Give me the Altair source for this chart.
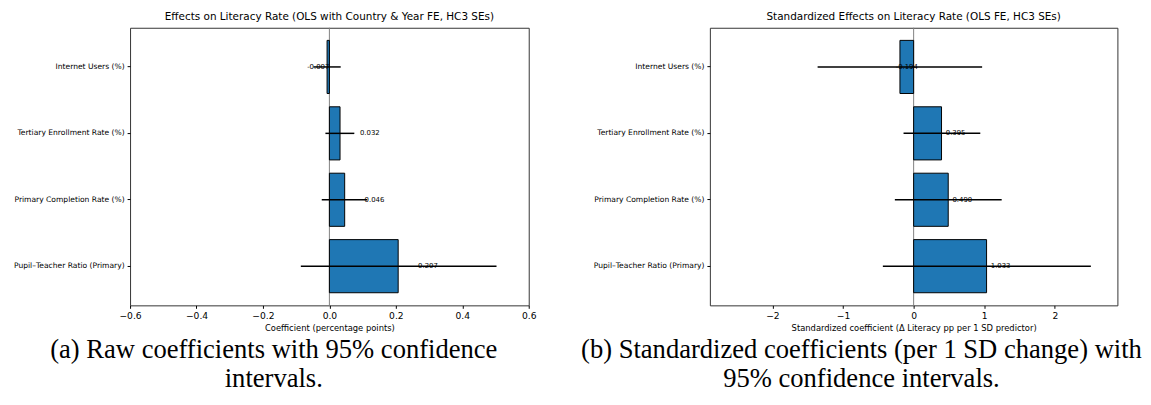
import altair as alt
import pandas as pd

# ---- data (top-to-bottom order as shown) ----
categories = [
    "Internet Users (%)",
    "Tertiary Enrollment Rate (%)",
    "Primary Completion Rate (%)",
    "Pupil\u2013Teacher Ratio (Primary)",
]
raw_coef = [-0.007, 0.032, 0.046, 0.207]
raw_lo = [-0.048, -0.012, -0.023, -0.086]
raw_hi = [0.034, 0.075, 0.114, 0.503]

std_coef = [-0.194, 0.395, 0.490, 1.033]
std_lo = [-1.360, -0.143, -0.266, -0.436]
std_hi = [0.970, 0.944, 1.247, 2.510]

raw_ticks = [-0.6, -0.4, -0.2, 0.0, 0.2, 0.4, 0.6]
std_ticks = [-2, -1, 0, 1, 2]
raw_domain = [-0.6, 0.6]
std_domain = [-2.886, 2.886]

raw_title = "Effects on Literacy Rate (OLS with Country & Year FE, HC3 SEs)"
std_title = "Standardized Effects on Literacy Rate (OLS FE, HC3 SEs)"
raw_xtitle = "Coefficient (percentage points)"
std_xtitle = "Standardized coefficient (\u0394 Literacy pp per 1 SD predictor)"

caption_a = ["(a) Raw coefficients with 95% confidence", "intervals."]
caption_b = ["(b) Standardized coefficients (per 1 SD change) with", "95% confidence intervals."]

FONT = "DejaVu Sans"
H = 282


def panel(coef, lo, hi, domain, ticks, fmt, title, xtitle, width, caption, cap_cx):
    df = pd.DataFrame({
        "cat": categories,
        "coef": coef,
        "lo": lo,
        "hi": hi,
        "label": [f"{v:.3f}" for v in coef],
        "base": [0.0] * len(coef),
        "lx": [c + 0.06 if c >= 0 else c - 0.06 for c in coef],
    })
    xsc = alt.Scale(domain=domain, nice=False, zero=False)
    ysc = alt.Scale(domain=categories, paddingInner=0.2, paddingOuter=0.19)
    xaxis = alt.Axis(values=ticks, format=fmt, grid=False, domain=False,
                     labelFont=FONT, labelFontSize=9.3, labelColor="black",
                     tickColor="black", tickSize=3, labelPadding=3, labelFlush=False,
                     titleFont=FONT, titleFontSize=8.5, titleFontWeight="normal",
                     titleColor="black", titlePadding=3)
    yaxis = alt.Axis(title=None, domain=False, grid=False,
                     labelFont=FONT, labelFontSize=7.7, labelColor="black",
                     tickColor="black", tickSize=3, labelPadding=3, labelLimit=400)

    def X(f):
        return alt.X(f, type="quantitative", scale=xsc, axis=xaxis, title=xtitle)

    Y = alt.Y("cat:N", scale=ysc, sort=categories, axis=yaxis)

    zero_df = pd.DataFrame({"base": [0.0]})
    zero = alt.Chart(zero_df).mark_rule(color="#808080", strokeWidth=1).encode(x=X("base"))
    bars = alt.Chart(df).mark_bar(color="#1f77b4", stroke="black", strokeWidth=1).encode(
        x=X("coef"), x2="base", y=Y)
    err = alt.Chart(df).mark_rule(color="black", strokeWidth=1.5).encode(
        x=X("lo"), x2="hi", y=Y)
    lab = alt.Chart(df).mark_text(align="left", baseline="middle", font=FONT,
                                  fontSize=7, color="black").encode(
        x=X("lx"), y=Y, text="label:N")
    caps = []
    for i, line in enumerate(caption):
        caps.append(
            alt.Chart(pd.DataFrame({"t": [line]})).mark_text(
                font="Liberation Serif", fontSize=27, align="center",
                baseline="middle", color="black").encode(
                x=alt.value(cap_cx), y=alt.value(327 + 30 * i), text="t:N")
        )
    return alt.layer(zero, bars, err, lab, *caps).properties(
        width=width, height=H,
        title=alt.TitleParams(title, font=FONT, fontSize=10.6, fontWeight="normal",
                              color="black", anchor="middle", frame="group", offset=5),
    )


left = panel(raw_coef, raw_lo, raw_hi, raw_domain, raw_ticks, ".1f",
             raw_title, raw_xtitle, 405, caption_a, 146)
right = panel(std_coef, std_lo, std_hi, std_domain, std_ticks, "d",
              std_title, std_xtitle, 414, caption_b, 154)

chart = alt.hconcat(left, right, spacing=184, bounds="flush").properties(
    padding={"left": 4, "top": 0, "right": 0, "bottom": 0}
).configure_view(stroke="#333333", strokeWidth=1)

chart.save("out.html", embed_options={"renderer": "svg", "actions": False})
